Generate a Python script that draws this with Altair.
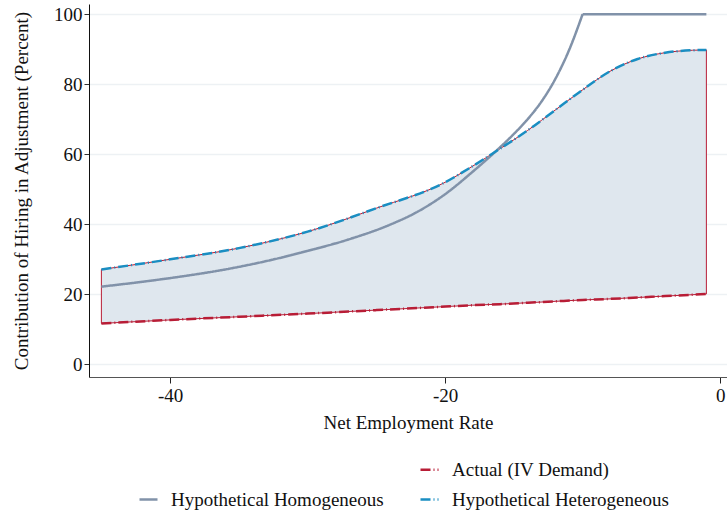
import altair as alt
import pandas as pd

# Net employment rate grid shared by the actual and heterogeneous series
x_grid = [-45, -40, -35, -30, -25, -20, -18, -16, -14, -12, -10, -8, -6, -4, -2, -1]
actual = [11.7, 12.7, 13.6, 14.5, 15.5, 16.5, 16.9, 17.2, 17.6, 18.0, 18.4, 18.7, 19.1, 19.5, 19.9, 20.1]
heterogeneous = [27.1, 30.0, 33.2, 37.9, 44.6, 52.0, 56.6, 61.6, 66.8, 72.6, 78.4, 83.7, 87.2, 89.0, 89.7, 89.8]

# Homogeneous counterfactual: rising part, then capped at 100%
x_hom_rise = [-45, -42, -39, -36, -33, -30, -27, -24, -22, -20, -18, -16, -15, -14, -13, -12, -11, -10]
hom_rise = [22.2, 23.6, 25.2, 27.1, 29.5, 32.4, 35.7, 39.9, 43.6, 48.6, 55.0, 62.0, 65.8, 70.0, 75.0, 81.4, 89.6, 100.0]
x_hom_cap = [-10, -1]
hom_cap = [100.0, 100.0]

S_ACT = "Actual (IV Demand)"
S_HOM = "Hypothetical Homogeneous"
S_HET = "Hypothetical Heterogeneous"
# legend fills column by column: blank slot above the homogeneous entry
legend_order = [" ", S_HOM, S_ACT, S_HET]

RED = "#b81d36"
BLUE = "#1a8ec2"
GRAY = "#8192a9"
FILL = "#dfe7ee"
FONT = "Liberation Serif"
FS = 19

band = pd.DataFrame({"x": x_grid, "lo": actual, "hi": heterogeneous})
smooth = pd.DataFrame(
    {"x": x_grid * 2, "y": actual + heterogeneous,
     "series": [S_ACT] * len(x_grid) + [S_HET] * len(x_grid)}
)
hom = pd.DataFrame({
    "x": x_hom_rise + x_hom_cap,
    "y": hom_rise + hom_cap,
    "series": [S_HOM] * (len(x_hom_rise) + len(x_hom_cap)),
    "part": ["rise"] * len(x_hom_rise) + ["cap"] * len(x_hom_cap),
})

x_enc = alt.X(
    "x:Q",
    scale=alt.Scale(domain=[-45.9, 0.5], nice=False, zero=False),
    axis=alt.Axis(
        title="Net Employment Rate", values=[-40, -20, 0], grid=False,
        labelExpr="datum.value + ''",
        domainColor="#555555", tickColor="#222222", tickSize=6,
        labelFont=FONT, labelFontSize=FS, labelColor="#111111", labelPadding=3,
        titleFont=FONT, titleFontSize=FS, titleFontWeight="normal",
        titleColor="#111111", titlePadding=8,
    ),
)
y_axis = alt.Axis(
    title="Contribution of Hiring in Adjustment (Percent)",
    values=[0, 20, 40, 60, 80, 100], grid=True, gridColor="#edf1f4", gridWidth=1.5,
    domainColor="#111111", tickColor="#333333", tickSize=5,
    labelFont=FONT, labelFontSize=FS, labelColor="#111111", labelPadding=2,
    titleFont=FONT, titleFontSize=FS, titleFontWeight="normal",
    titleColor="#111111", titlePadding=22,
)
y_scale = alt.Scale(domain=[-3.6, 102.9], nice=False, zero=False)

color = alt.Color(
    "series:N",
    scale=alt.Scale(domain=legend_order, range=["#ffffff", GRAY, RED, BLUE]),
    legend=alt.Legend(
        title=None, orient="none", legendX=49, legendY=455, columns=2,
        columnPadding=31, rowPadding=9, padding=0,
        symbolType="stroke", symbolSize=324, symbolStrokeWidth=2.5,
        labelFont=FONT, labelFontSize=FS, labelColor="#111111",
        labelOffset=12, labelLimit=400,
    ),
)
dash = alt.StrokeDash(
    "series:N",
    scale=alt.Scale(domain=legend_order, range=[[1, 0], [1, 0], [10, 3, 1, 3], [10, 3, 1, 3]]),
    legend=None,
)

area = alt.Chart(band).mark_area(
    color=FILL, stroke=RED, strokeWidth=1, interpolate="monotone"
).encode(x=x_enc, y=alt.Y("lo:Q", scale=y_scale, axis=y_axis), y2="hi:Q")

hom_line = alt.Chart(hom).mark_line(strokeWidth=2.5, interpolate="monotone").encode(
    x=x_enc, y=alt.Y("y:Q", scale=y_scale, axis=y_axis),
    color=color, strokeDash=dash, detail="part:N",
)

smooth_lines = alt.Chart(smooth).mark_line(strokeWidth=2.5, interpolate="monotone").encode(
    x=x_enc, y=alt.Y("y:Q", scale=y_scale, axis=y_axis), color=color, strokeDash=dash
)

chart = (
    alt.layer(area, hom_line, smooth_lines)
    .properties(
        width=638, height=373,
        autosize=alt.AutoSizeParams(type="none"),
        padding={"left": 89, "top": 4, "right": 0, "bottom": 135},
        background="white",
    )
    .configure_view(stroke=None)
)

chart.save("out.html", embed_options={"renderer": "svg", "actions": False})
